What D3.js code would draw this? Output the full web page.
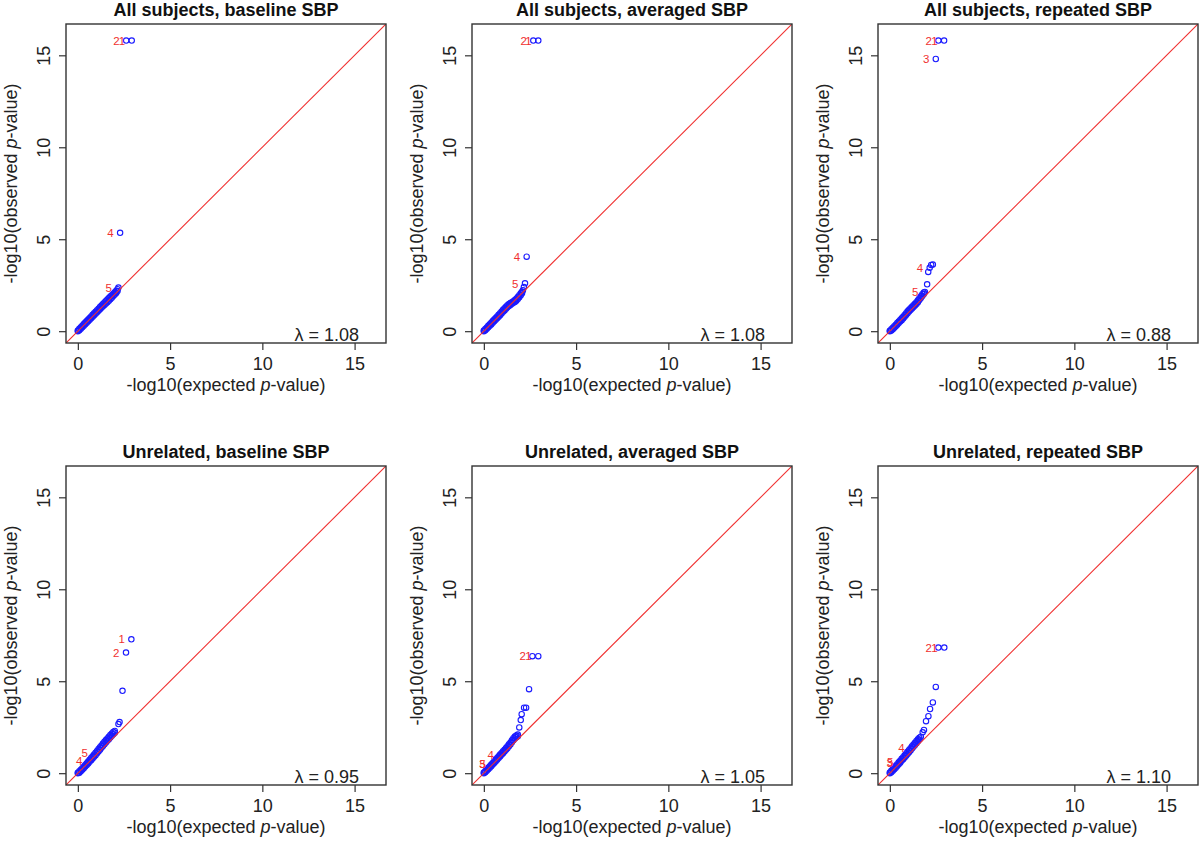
<!DOCTYPE html>
<html>
<head>
<meta charset="utf-8">
<script src="https://cdn.jsdelivr.net/npm/d3@7"></script>
<style>
	body { margin: 0; background: #fff; }
	svg { display: block; font-family: 'Liberation Sans', Arial, sans-serif; }
</style>
</head>
<body>
<div id="chart"></div>
<script>
// Panel titles and genomic inflation factors
const titles = [
	'All subjects, baseline SBP',
	'All subjects, averaged SBP',
	'All subjects, repeated SBP',
	'Unrelated, baseline SBP',
	'Unrelated, averaged SBP',
	'Unrelated, repeated SBP',
];
const lambdas = ['1.08', '1.08', '0.88', '0.95', '1.05', '1.10'];
const ticks = [0, 5, 10, 15];
const axisMax = 16.06; // largest -log10 value, R pads it by 4%

// Dense part of each QQ cloud: [expected, observed low edge, observed high edge]
const allBaseBand = [
	[0, 0, 0.04], [0.08, 0.05, 0.13], [0.16, 0.13, 0.21], [0.24, 0.21, 0.3], [0.32, 0.3, 0.39], [0.4, 0.38, 0.47],
	[0.48, 0.46, 0.55], [0.56, 0.54, 0.63], [0.64, 0.62, 0.72], [0.72, 0.7, 0.8], [0.8, 0.79, 0.89], [0.88, 0.87, 0.97],
	[0.96, 0.95, 1.06], [1.04, 1.03, 1.14], [1.12, 1.11, 1.22], [1.2, 1.19, 1.31], [1.28, 1.27, 1.39], [1.36, 1.35, 1.48],
	[1.44, 1.43, 1.56], [1.52, 1.51, 1.64], [1.6, 1.58, 1.72], [1.68, 1.66, 1.8], [1.76, 1.74, 1.88], [1.84, 1.82, 1.96],
	[1.92, 1.91, 2.04], [2.0, 1.99, 2.12], [2.08, 2.08, 2.2], [2.15, 2.18, 2.28],
];
// Sparse upper tail: [expected, observed]
const allBaseTail = [[2.2, 2.37], [2.29, 5.35], [2.62, 15.8], [2.92, 15.8]];
const allBaseLabels = [['5', 2.2, 2.37], ['4', 2.29, 5.35], ['2', 2.62, 15.8], ['1', 2.92, 15.8]];

const allAvgBand = [
	[0, 0, 0.04], [0.08, 0.05, 0.12], [0.16, 0.13, 0.2], [0.24, 0.21, 0.29], [0.32, 0.29, 0.38], [0.4, 0.37, 0.46],
	[0.48, 0.46, 0.55], [0.56, 0.54, 0.63], [0.64, 0.62, 0.72], [0.72, 0.7, 0.8], [0.8, 0.78, 0.89], [0.88, 0.87, 0.98],
	[0.96, 0.96, 1.07], [1.04, 1.05, 1.16], [1.12, 1.13, 1.25], [1.2, 1.22, 1.33], [1.28, 1.3, 1.41], [1.36, 1.37, 1.48],
	[1.44, 1.43, 1.53], [1.52, 1.49, 1.58], [1.6, 1.54, 1.63], [1.68, 1.59, 1.69], [1.76, 1.66, 1.77], [1.84, 1.75, 1.86],
	[1.92, 1.85, 1.96], [2.0, 1.96, 2.06], [2.07, 2.06, 2.14],
];
const allAvgTail = [[2.12, 2.22], [2.17, 2.4], [2.23, 2.6], [2.32, 4.05], [2.68, 15.8], [2.95, 15.8]];
const allAvgLabels = [['5', 2.23, 2.6], ['4', 2.32, 4.05], ['2', 2.68, 15.8], ['1', 2.95, 15.8]];

const allRepBand = [
	[0, 0, 0.03], [0.08, 0.04, 0.11], [0.16, 0.11, 0.19], [0.24, 0.19, 0.27], [0.32, 0.27, 0.35], [0.4, 0.35, 0.44],
	[0.48, 0.44, 0.53], [0.56, 0.52, 0.61], [0.64, 0.6, 0.7], [0.72, 0.69, 0.79], [0.8, 0.78, 0.88], [0.88, 0.88, 0.98],
	[0.96, 0.98, 1.08], [1.04, 1.07, 1.17], [1.12, 1.15, 1.25], [1.2, 1.23, 1.33], [1.28, 1.31, 1.41], [1.36, 1.39, 1.49],
	[1.44, 1.48, 1.58], [1.52, 1.58, 1.68], [1.6, 1.69, 1.79], [1.68, 1.8, 1.9], [1.76, 1.91, 2.01], [1.84, 2.02, 2.1],
];
const allRepTail = [[1.9, 2.13], [2.02, 2.55], [2.08, 3.22], [2.16, 3.45], [2.24, 3.6], [2.33, 3.62], [2.49, 14.8], [2.63, 15.8], [2.94, 15.8]];
const allRepLabels = [['5', 1.9, 2.13], ['4', 2.16, 3.45], ['3', 2.49, 14.8], ['2', 2.63, 15.8], ['1', 2.94, 15.8]];

const unrelBaseBand = [
	[0, 0, 0.03], [0.08, 0.03, 0.11], [0.16, 0.11, 0.19], [0.24, 0.19, 0.27], [0.32, 0.27, 0.36], [0.4, 0.36, 0.45],
	[0.48, 0.44, 0.54], [0.56, 0.53, 0.63], [0.64, 0.62, 0.73], [0.72, 0.71, 0.82], [0.8, 0.8, 0.92], [0.88, 0.89, 1.01],
	[0.96, 0.98, 1.11], [1.04, 1.08, 1.21], [1.12, 1.18, 1.31], [1.2, 1.28, 1.41], [1.28, 1.38, 1.51], [1.36, 1.48, 1.61],
	[1.44, 1.58, 1.71], [1.52, 1.67, 1.8], [1.6, 1.76, 1.89], [1.68, 1.85, 1.98], [1.76, 1.94, 2.07], [1.84, 2.03, 2.16],
	[1.92, 2.12, 2.24], [2.0, 2.2, 2.3],
];
const unrelBaseTail = [[2.2, 2.67], [2.26, 2.78], [2.42, 4.48], [2.61, 6.56], [2.9, 7.28]];
const unrelBaseLabels = [['5', 0.9, 1.12], ['4', 0.6, 0.68], ['2', 2.61, 6.56], ['1', 2.9, 7.28]];

const unrelAvgBand = [
	[0, 0, 0.04], [0.08, 0.05, 0.12], [0.16, 0.13, 0.21], [0.24, 0.21, 0.29], [0.32, 0.29, 0.38], [0.4, 0.38, 0.47],
	[0.48, 0.47, 0.56], [0.56, 0.55, 0.65], [0.64, 0.64, 0.74], [0.72, 0.73, 0.83], [0.8, 0.82, 0.92], [0.88, 0.91, 1.01],
	[0.96, 1.0, 1.1], [1.04, 1.09, 1.19], [1.12, 1.18, 1.28], [1.2, 1.27, 1.37], [1.28, 1.36, 1.47], [1.36, 1.46, 1.57],
	[1.44, 1.56, 1.67], [1.52, 1.68, 1.79], [1.6, 1.79, 1.9], [1.68, 1.89, 1.99], [1.76, 1.96, 2.05], [1.84, 2.01, 2.1],
];
const unrelAvgTail = [[1.92, 2.49], [2.0, 2.89], [2.05, 3.21], [2.18, 3.56], [2.29, 3.56], [2.45, 4.57], [2.63, 6.36], [2.95, 6.36]];
const unrelAvgLabels = [['3', 0.43, 0.5], ['5', 0.46, 0.53], ['4', 0.9, 0.99], ['2', 2.63, 6.36], ['1', 2.95, 6.36]];

const unrelRepBand = [
	[0, 0, 0.04], [0.08, 0.05, 0.13], [0.16, 0.13, 0.22], [0.24, 0.22, 0.31], [0.32, 0.3, 0.4], [0.4, 0.39, 0.49],
	[0.48, 0.48, 0.59], [0.56, 0.57, 0.68], [0.64, 0.67, 0.78], [0.72, 0.76, 0.87], [0.8, 0.85, 0.97], [0.88, 0.95, 1.07],
	[0.96, 1.04, 1.16], [1.04, 1.14, 1.26], [1.12, 1.24, 1.36], [1.2, 1.34, 1.46], [1.28, 1.44, 1.56], [1.36, 1.53, 1.65],
	[1.44, 1.63, 1.75], [1.52, 1.73, 1.84], [1.6, 1.83, 1.93],
];
const unrelRepTail = [[1.68, 1.98], [1.78, 2.22], [1.85, 2.35], [1.96, 2.83], [2.09, 3.1], [2.18, 3.49], [2.33, 3.85], [2.49, 4.69], [2.63, 6.83], [2.95, 6.83]];
const unrelRepLabels = [['3', 0.52, 0.57], ['5', 0.54, 0.6], ['4', 1.15, 1.36], ['2', 2.63, 6.83], ['1', 2.95, 6.83]];

const panelBands = [allBaseBand, allAvgBand, allRepBand, unrelBaseBand, unrelAvgBand, unrelRepBand];
const panelTails = [allBaseTail, allAvgTail, allRepTail, unrelBaseTail, unrelAvgTail, unrelRepTail];
const panelLabels = [allBaseLabels, allAvgLabels, allRepLabels, unrelBaseLabels, unrelAvgLabels, unrelRepLabels];

const width = 1200;
const height = 841;

const svg = d3.select('#chart').append('svg').attr('width', width).attr('height', height);

// Layout of the 2 x 3 grid of plot boxes
const boxW = 320;
const boxH = 319;
const pad = axisMax * 0.04;
const ink = '#222';

titles.forEach((title, i) => {
	const col = i % 3;
	const row = Math.floor(i / 3);
	const left = 66 + col * 406;
	const top = 24 + row * 442;

	const x = d3.scaleLinear().domain([-pad, axisMax + pad]).range([left, left + boxW]);
	const y = d3.scaleLinear().domain([-pad, axisMax + pad]).range([top + boxH, top]);

	const g = svg.append('g').attr('class', 'panel');

	// Clip for the y = x line
	const clipId = 'clip-' + i;
	g.append('clipPath').attr('id', clipId).append('rect').attr('x', left).attr('y', top).attr('width', boxW).attr('height', boxH);

	// Band points (two edges) + tail points
	const pts = [];
	panelBands[i].forEach((d) => {
		pts.push([d[0], d[1]]);
		pts.push([d[0], d[2]]);
	});
	panelTails[i].forEach((d) => pts.push(d));

	g.selectAll('circle')
		.data(pts)
		.enter()
		.append('circle')
		.attr('cx', (d) => x(d[0]))
		.attr('cy', (d) => y(d[1]))
		.attr('r', 2.7)
		.attr('fill', 'none')
		.attr('stroke', '#1a1aff')
		.attr('stroke-width', 1.1);

	// Reference line
	g.append('line')
		.attr('clip-path', `url(#${clipId})`)
		.attr('x1', x(-pad))
		.attr('y1', y(-pad))
		.attr('x2', x(axisMax + pad))
		.attr('y2', y(axisMax + pad))
		.attr('stroke', '#f03030')
		.attr('stroke-width', 1.1);

	// Rank labels, left of their points
	g.selectAll('.rank')
		.data(panelLabels[i])
		.enter()
		.append('text')
		.attr('class', 'rank')
		.attr('x', (d) => x(d[1]) - 6.5)
		.attr('y', (d) => y(d[2]) + 4.2)
		.attr('text-anchor', 'end')
		.attr('font-size', 11.5)
		.attr('fill', '#f03030')
		.text((d) => d[0]);

	// Box
	g.append('rect')
		.attr('x', left)
		.attr('y', top)
		.attr('width', boxW)
		.attr('height', boxH)
		.attr('fill', 'none')
		.attr('stroke', '#333')
		.attr('stroke-width', 1.4);

	// X axis ticks + labels
	const xAxis = d3.axisBottom(x).tickValues(ticks).tickSize(7).tickSizeOuter(0).tickPadding(4);
	const xg = g.append('g').attr('transform', `translate(0,${top + boxH})`).call(xAxis);
	xg.select('.domain').remove();
	xg.selectAll('line').attr('stroke', '#333').attr('stroke-width', 1.2);
	xg.selectAll('text').attr('font-size', 18).attr('fill', ink).attr('font-family', null).attr('y', 26.5).attr('dy', null);

	// Y axis ticks + rotated labels
	const yAxis = d3.axisLeft(y).tickValues(ticks).tickSize(7).tickSizeOuter(0);
	const yg = g.append('g').attr('transform', `translate(${left},0)`).call(yAxis);
	yg.select('.domain').remove();
	yg.selectAll('line').attr('stroke', '#333').attr('stroke-width', 1.2);
	yg.selectAll('text')
		.attr('font-size', 18)
		.attr('fill', ink)
		.attr('font-family', null)
		.attr('x', null)
		.attr('dy', null)
		.attr('text-anchor', 'middle')
		.attr('transform', 'translate(-16,0) rotate(-90)');

	// Title
	g.append('text')
		.attr('x', left + boxW / 2)
		.attr('y', top - 8)
		.attr('text-anchor', 'middle')
		.attr('font-size', 18)
		.attr('font-weight', 'bold')
		.attr('fill', '#111')
		.text(title);

	// X axis title
	const xt = g.append('text')
		.attr('x', left + boxW / 2)
		.attr('y', top + boxH + 47.5)
		.attr('text-anchor', 'middle')
		.attr('font-size', 18)
		.attr('fill', ink);
	xt.append('tspan').text('-log10(expected ');
	xt.append('tspan').attr('font-style', 'italic').text('p');
	xt.append('tspan').text('-value)');

	// Y axis title
	const yt = g.append('text')
		.attr('transform', `translate(${left - 49.5},${top + boxH / 2}) rotate(-90)`)
		.attr('text-anchor', 'middle')
		.attr('font-size', 18)
		.attr('fill', ink);
	yt.append('tspan').text('-log10(observed ');
	yt.append('tspan').attr('font-style', 'italic').text('p');
	yt.append('tspan').text('-value)');

	// Lambda
	g.append('text')
		.attr('x', left + boxW - 27)
		.attr('y', top + boxH - 2.5)
		.attr('text-anchor', 'end')
		.attr('font-size', 18)
		.attr('fill', ink)
		.text('\u03bb = ' + lambdas[i]);
});
</script>
</body>
</html>
